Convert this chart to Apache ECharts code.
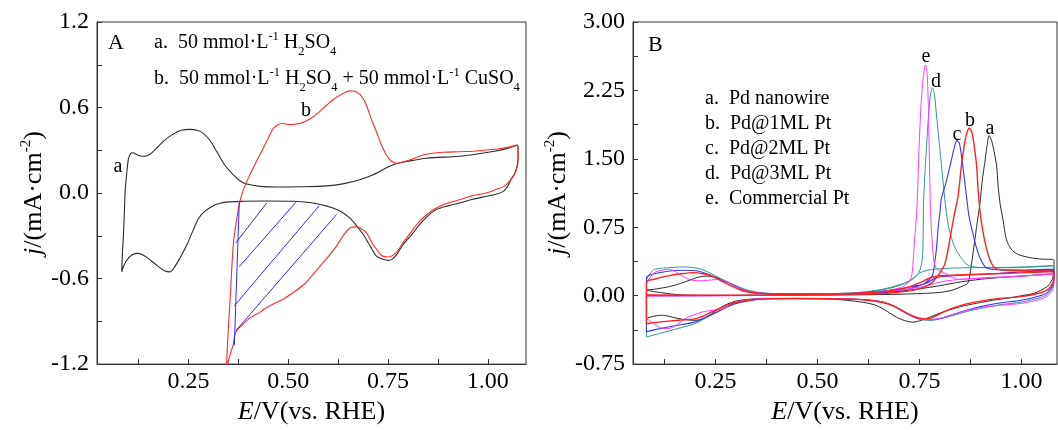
<!DOCTYPE html>
<html><head><meta charset="utf-8">
<script src="https://cdn.jsdelivr.net/npm/echarts@6/dist/echarts.min.js"></script>
<style>html,body{margin:0;padding:0;background:#fff}#c{width:1058px;height:430px}</style>
</head><body><div id="c"></div>
<script>
// ---------- Axis ticks / labels ----------
const A_xLabels = [0.25, 0.5, 0.75, 1.0];
const A_xTicks = [0.125, 0.25, 0.375, 0.5, 0.625, 0.75, 0.875, 1.0];
const A_yLabels = [-1.2, -0.6, 0, 0.6, 1.2];
const A_yTicks = [-1.2, -0.9, -0.6, -0.3, 0, 0.3, 0.6, 0.9, 1.2];
const B_xLabels = [0.25, 0.5, 0.75, 1.0];
const B_xTicks = [0.125, 0.25, 0.375, 0.5, 0.625, 0.75, 0.875, 1.0];
const B_yLabels = [-0.75, 0, 0.75, 1.5, 2.25, 3.0];
const B_yTicks = [-0.75, -0.375, 0, 0.375, 0.75, 1.125, 1.5, 1.875, 2.25, 2.625, 3.0];

// ---------- Panel A: [E (V), j (mA/cm2)] ----------
const A_curve_a = [[0.083,-0.552],[0.085,-0.40],[0.087,-0.31],[0.09,-0.10],[0.092,0.035],[0.096,0.151],[0.100,0.244],[0.106,0.279],[0.112,0.283],[0.12,0.27],[0.13,0.26],[0.142,0.258],[0.155,0.275],[0.17,0.315],[0.19,0.37],[0.21,0.41],[0.232,0.44],[0.254,0.447],[0.272,0.44],[0.2875,0.419],[0.305,0.365],[0.321,0.291],[0.34,0.2],[0.3625,0.128],[0.38,0.085],[0.396,0.063],[0.429,0.047],[0.47,0.042],[0.53,0.044],[0.596,0.05],[0.64,0.066],[0.679,0.093],[0.71,0.125],[0.729,0.151],[0.75,0.182],[0.771,0.205],[0.80,0.223],[0.846,0.244],[0.929,0.258],[0.97,0.272],[1.013,0.291],[1.045,0.31],[1.075,0.337],
[1.076,0.26],[1.074,0.2],[1.068,0.14],[1.06,0.105],[1.05,0.05],[1.039,0.012],[1.02,-0.008],[0.996,-0.023],[0.96,-0.045],[0.929,-0.07],[0.9,-0.09],[0.871,-0.116],[0.85,-0.16],[0.829,-0.221],[0.81,-0.29],[0.788,-0.361],[0.772,-0.43],[0.76,-0.465],[0.75,-0.472],[0.738,-0.465],[0.721,-0.442],[0.705,-0.37],[0.688,-0.291],[0.67,-0.225],[0.654,-0.174],[0.635,-0.135],[0.612,-0.105],[0.5625,-0.07],[0.5125,-0.058],[0.45,-0.056],[0.3875,-0.058],[0.35,-0.062],[0.329,-0.072],[0.31,-0.092],[0.29,-0.13],[0.275,-0.18],[0.262,-0.26],[0.245,-0.37],[0.228,-0.46],[0.215,-0.52],[0.204,-0.553],[0.19,-0.545],[0.17,-0.505],[0.15,-0.46],[0.135,-0.432],[0.121,-0.423],[0.108,-0.435],[0.096,-0.47],[0.088,-0.51],[0.083,-0.552]];

const A_curve_b = [[0.3435,-1.30],[0.3455,-1.198],[0.35,-0.95],[0.355,-0.72],[0.3625,-0.36],[0.37,-0.2],[0.379,-0.058],[0.39,0.04],[0.404,0.128],[0.42,0.22],[0.4375,0.314],[0.45,0.385],[0.4625,0.453],[0.4735,0.478],[0.4835,0.488],[0.494,0.484],[0.504,0.481],[0.516,0.483],[0.529,0.488],[0.545,0.505],[0.5625,0.535],[0.58,0.575],[0.596,0.616],[0.615,0.66],[0.6375,0.698],[0.654,0.717],[0.665,0.714],[0.675,0.703],[0.686,0.67],[0.696,0.616],[0.708,0.52],[0.721,0.43],[0.733,0.34],[0.746,0.267],[0.758,0.225],[0.771,0.209],[0.787,0.218],[0.804,0.232],[0.825,0.255],[0.846,0.272],[0.8875,0.286],[0.93,0.29],[0.971,0.295],[1.0375,0.314],[1.075,0.337],
[1.076,0.27],[1.075,0.2],[1.07,0.15],[1.062,0.11],[1.05,0.07],[1.039,0.045],[1.02,0.025],[0.996,0.0],[0.96,-0.02],[0.929,-0.047],[0.9,-0.07],[0.871,-0.105],[0.85,-0.145],[0.829,-0.198],[0.81,-0.265],[0.7875,-0.349],[0.77,-0.42],[0.75,-0.449],[0.735,-0.44],[0.7125,-0.36],[0.696,-0.279],[0.68,-0.245],[0.667,-0.237],[0.655,-0.245],[0.64,-0.29],[0.621,-0.372],[0.59,-0.48],[0.5625,-0.57],[0.54,-0.64],[0.5125,-0.698],[0.4875,-0.745],[0.4625,-0.779],[0.445,-0.805],[0.429,-0.837],[0.41,-0.865],[0.396,-0.895],[0.383,-0.93],[0.371,-0.965],[0.365,-1.01],[0.3625,-1.059],[0.355,-1.13],[0.348,-1.2],[0.345,-1.3]];

// hatched (Cu UPD) area
const A_hatchEdge = [[0.3775,-0.065],[0.365,-1.07]];
const A_hatch1 = [[0.446,-0.070],[0.369,-0.349]];
const A_hatch2 = [[0.519,-0.065],[0.3775,-0.516]];
const A_hatch3 = [[0.5775,-0.089],[0.365,-0.791]];
const A_hatch4 = [[0.621,-0.151],[0.369,-0.965]];

// ---------- Panel B: CO stripping CVs ----------
// a: Pd nanowire
const B_a_scan1 = [[0.081,0.06],[0.1,0.045],[0.13,0.025],[0.17,0.008],[0.25,0.003],[0.4,0.005],[0.5,0.007],[0.6,0.01],[0.7,0.016],[0.76,0.025],[0.8,0.036],[0.83,0.06],[0.857,0.108],[0.869,0.14],[0.876,0.3],[0.881,0.452],[0.89,0.75],[0.898,1.0],[0.905,1.3],[0.910,1.45],[0.915,1.62],[0.921,1.755],[0.927,1.70],[0.933,1.58],[0.939,1.43],[0.943,1.2],[0.948,1.0],[0.955,0.83],[0.963,0.62],[0.975,0.51],[0.99,0.455],[1.004,0.434],[1.03,0.41],[1.055,0.40],[1.079,0.397]];
const B_a_return = [[1.08,0.3],[1.077,0.2],[1.068,0.12],[1.053,0.072],[1.03,0.025],[1.0,0.0],[0.979,-0.018],[0.93,-0.05],[0.9,-0.075],[0.86,-0.11],[0.82,-0.16],[0.795,-0.2],[0.775,-0.236],[0.755,-0.27],[0.734,-0.29],[0.715,-0.275],[0.694,-0.236],[0.677,-0.19],[0.661,-0.145],[0.64,-0.1],[0.612,-0.073],[0.57,-0.05],[0.53,-0.037],[0.45,-0.032],[0.38,-0.03],[0.33,-0.04],[0.3,-0.06],[0.28,-0.09],[0.26,-0.14],[0.24,-0.2],[0.22,-0.25],[0.203,-0.27],[0.18,-0.265],[0.158,-0.25],[0.135,-0.225],[0.12,-0.215],[0.105,-0.22],[0.09,-0.235],[0.081,-0.25]];
const B_a_scan2 = [[0.081,0.055],[0.1,0.07],[0.138,0.1],[0.165,0.135],[0.187,0.17],[0.21,0.205],[0.23,0.215],[0.253,0.2],[0.27,0.17],[0.285,0.14],[0.305,0.095],[0.325,0.055],[0.35,0.03],[0.4,0.02],[0.5,0.018],[0.6,0.02],[0.65,0.03],[0.7,0.048],[0.75,0.075],[0.8,0.11],[0.85,0.15],[0.9,0.18],[0.95,0.2],[1.0,0.215],[1.05,0.23],[1.079,0.24]];
// b: Pd@1ML Pt
const B_b_scan1 = [[0.081,0.01],[0.2,0.004],[0.4,0.007],[0.6,0.014],[0.68,0.03],[0.73,0.055],[0.76,0.09],[0.78,0.14],[0.792,0.2],[0.803,0.27],[0.812,0.343],[0.82,0.5],[0.828,0.706],[0.836,0.9],[0.845,1.1],[0.853,1.43],[0.86,1.65],[0.866,1.78],[0.872,1.835],[0.878,1.8],[0.884,1.65],[0.89,1.43],[0.894,1.15],[0.898,0.95],[0.905,0.72],[0.914,0.524],[0.924,0.38],[0.934,0.307],[0.95,0.285],[1.0,0.275],[1.05,0.27],[1.079,0.27]];
const B_b_return = [[1.08,0.22],[1.077,0.14],[1.065,0.07],[1.05,0.035],[1.0,-0.01],[0.947,-0.03],[0.9,-0.06],[0.865,-0.09],[0.83,-0.14],[0.8,-0.2],[0.783,-0.24],[0.77,-0.252],[0.755,-0.25],[0.735,-0.225],[0.71,-0.17],[0.69,-0.12],[0.661,-0.075],[0.612,-0.045],[0.55,-0.035],[0.45,-0.03],[0.38,-0.035],[0.34,-0.045],[0.3,-0.075],[0.281,-0.1],[0.26,-0.14],[0.24,-0.181],[0.22,-0.225],[0.199,-0.254],[0.17,-0.265],[0.134,-0.279],[0.1,-0.295],[0.081,-0.308]];
const B_b_scan2 = [[0.081,0.15],[0.1,0.18],[0.134,0.217],[0.165,0.24],[0.199,0.253],[0.22,0.24],[0.24,0.217],[0.265,0.16],[0.289,0.108],[0.31,0.065],[0.33,0.04],[0.36,0.025],[0.45,0.018],[0.55,0.02],[0.62,0.03],[0.67,0.05],[0.72,0.09],[0.75,0.14],[0.783,0.205],[0.82,0.222],[0.9,0.235],[1.0,0.25],[1.079,0.265]];
// c: Pd@2ML Pt
const B_c_scan1 = [[0.081,0.0],[0.3,0.002],[0.5,0.01],[0.6,0.018],[0.66,0.035],[0.72,0.07],[0.759,0.126],[0.775,0.18],[0.783,0.235],[0.788,0.38],[0.792,0.524],[0.796,0.75],[0.80,0.9],[0.804,1.067],[0.816,1.25],[0.83,1.52],[0.837,1.65],[0.842,1.70],[0.848,1.67],[0.854,1.5],[0.861,1.25],[0.866,1.067],[0.871,0.886],[0.88,0.7],[0.89,0.524],[0.9,0.4],[0.914,0.307],[0.94,0.285],[1.0,0.28],[1.079,0.29]];
const B_c_return = [[1.08,0.2],[1.077,0.12],[1.065,0.04],[1.05,0.005],[1.0,-0.05],[0.947,-0.08],[0.9,-0.12],[0.865,-0.16],[0.83,-0.21],[0.8,-0.25],[0.78,-0.262],[0.76,-0.26],[0.74,-0.24],[0.71,-0.17],[0.68,-0.1],[0.65,-0.062],[0.6,-0.042],[0.5,-0.032],[0.4,-0.032],[0.35,-0.042],[0.31,-0.075],[0.28,-0.12],[0.25,-0.19],[0.22,-0.25],[0.199,-0.29],[0.15,-0.33],[0.1,-0.375],[0.081,-0.395]];
const B_c_scan2 = [[0.081,0.2],[0.1,0.24],[0.134,0.268],[0.17,0.278],[0.207,0.27],[0.24,0.22],[0.26,0.18],[0.281,0.144],[0.31,0.08],[0.33,0.045],[0.37,0.025],[0.45,0.02],[0.55,0.022],[0.62,0.035],[0.68,0.06],[0.72,0.09],[0.745,0.11],[0.767,0.135],[0.79,0.195],[0.824,0.217],[0.9,0.235],[0.947,0.245],[1.0,0.26],[1.079,0.28]];
// d: Pd@3ML Pt
const B_d_scan1 = [[0.081,0.0],[0.3,0.003],[0.5,0.012],[0.6,0.03],[0.661,0.065],[0.7,0.11],[0.726,0.16],[0.745,0.225],[0.752,0.29],[0.757,0.4],[0.759,0.6],[0.76,1.0],[0.763,1.3],[0.767,1.6],[0.772,1.95],[0.777,2.2],[0.782,2.28],[0.787,2.2],[0.792,1.97],[0.798,1.7],[0.804,1.43],[0.812,1.067],[0.818,0.85],[0.824,0.706],[0.835,0.55],[0.849,0.434],[0.862,0.36],[0.873,0.326],[0.898,0.31],[0.95,0.31],[1.0,0.315],[1.079,0.33]];
const B_d_return = [[1.08,0.22],[1.077,0.1],[1.065,0.02],[1.05,-0.015],[1.0,-0.07],[0.947,-0.1],[0.9,-0.14],[0.865,-0.175],[0.83,-0.22],[0.8,-0.255],[0.78,-0.27],[0.76,-0.265],[0.74,-0.245],[0.71,-0.175],[0.68,-0.1],[0.65,-0.06],[0.6,-0.04],[0.5,-0.03],[0.4,-0.03],[0.363,-0.037],[0.33,-0.055],[0.297,-0.09],[0.27,-0.14],[0.248,-0.19],[0.22,-0.26],[0.199,-0.308],[0.15,-0.37],[0.1,-0.43],[0.081,-0.453]];
const B_d_scan2 = [[0.081,0.163],[0.09,0.24],[0.101,0.289],[0.13,0.305],[0.175,0.315],[0.2,0.305],[0.216,0.289],[0.245,0.23],[0.273,0.163],[0.3,0.11],[0.322,0.072],[0.35,0.04],[0.379,0.025],[0.45,0.02],[0.55,0.025],[0.6,0.035],[0.661,0.072],[0.7,0.12],[0.726,0.163],[0.751,0.25],[0.783,0.289],[0.881,0.307],[0.979,0.307],[1.079,0.326]];
// e: Commercial Pt
const B_e_scan1 = [[0.081,-0.005],[0.3,0.0],[0.5,0.01],[0.6,0.02],[0.65,0.04],[0.7,0.085],[0.72,0.13],[0.73,0.2],[0.734,0.343],[0.738,0.6],[0.743,0.886],[0.746,1.2],[0.749,1.6],[0.754,2.1],[0.76,2.42],[0.765,2.53],[0.769,2.42],[0.772,2.05],[0.774,1.6],[0.776,1.15],[0.778,0.85],[0.782,0.55],[0.787,0.343],[0.796,0.285],[0.815,0.24],[0.83,0.2],[0.845,0.18],[0.9,0.195],[1.0,0.215],[1.079,0.235]];
const B_e_return = [[1.08,0.15],[1.076,0.06],[1.065,0.0],[1.05,-0.035],[1.0,-0.085],[0.947,-0.105],[0.9,-0.13],[0.865,-0.165],[0.83,-0.21],[0.8,-0.25],[0.78,-0.262],[0.76,-0.26],[0.74,-0.24],[0.71,-0.17],[0.68,-0.1],[0.65,-0.06],[0.6,-0.04],[0.5,-0.03],[0.4,-0.03],[0.35,-0.035],[0.3,-0.07],[0.275,-0.13],[0.256,-0.156],[0.235,-0.165],[0.216,-0.181],[0.195,-0.215],[0.175,-0.254],[0.155,-0.32],[0.134,-0.362],[0.115,-0.35],[0.1,-0.31],[0.088,-0.27],[0.081,-0.25]];
const B_e_scan2 = [[0.081,0.12],[0.09,0.2],[0.101,0.255],[0.12,0.28],[0.138,0.289],[0.155,0.255],[0.175,0.2],[0.19,0.172],[0.216,0.163],[0.24,0.172],[0.262,0.18],[0.28,0.15],[0.3,0.1],[0.33,0.05],[0.37,0.025],[0.45,0.02],[0.55,0.02],[0.62,0.03],[0.68,0.05],[0.72,0.07],[0.76,0.1],[0.816,0.163],[0.9,0.19],[0.947,0.2],[1.0,0.215],[1.079,0.24]];

const A_legend = ['a.', 'b.'];
const B_legend = ['a.  Pd nanowire', 'b.  Pd@1ML Pt', 'c.  Pd@2ML Pt', 'd.  Pd@3ML Pt', 'e.  Commercial Pt'];

// ---------- Build chart ----------
const FONT = '"Liberation Serif", "Times New Roman", serif';
const AX = '#333';
const chart = echarts.init(document.getElementById('c'), null, {renderer: 'canvas'});

function cv(data, axis, color, width, smooth) {
  return {type: 'line', xAxisIndex: axis, yAxisIndex: axis, data: data, symbol: 'none', showSymbol: false,
    smooth: smooth === undefined ? 0.3 : smooth, lineStyle: {color: color, width: width}, silent: true, animation: false};
}
function xAx(grid, min, max, ticks, labels) {
  return {type: 'value', gridIndex: grid, min: min, max: max,
    axisLine: {show: true, onZero: false, lineStyle: {color: AX, width: 1}},
    axisTick: {show: true, inside: true, length: 5, customValues: ticks, lineStyle: {color: AX}},
    axisLabel: {customValues: labels, formatter: v => v.toFixed(2), fontSize: 24, fontFamily: FONT, color: '#000', margin: 6},
    splitLine: {show: false},
    name: '{i|E}{n|/V(vs. RHE)}', nameLocation: 'middle', nameGap: 34,
    nameTextStyle: {rich: {i: {fontFamily: FONT, fontSize: 26, fontStyle: 'italic', color: '#000'}, n: {fontFamily: FONT, fontSize: 26, color: '#000'}}}};
}
function yAx(grid, min, max, ticks, labels, dec, gap) {
  return {type: 'value', gridIndex: grid, min: min, max: max,
    axisLine: {show: true, onZero: false, lineStyle: {color: AX, width: 1}},
    axisTick: {show: true, inside: true, length: 5, customValues: ticks, lineStyle: {color: AX}},
    axisLabel: {customValues: labels, formatter: v => v.toFixed(dec), fontSize: 24, fontFamily: FONT, color: '#000', margin: 8},
    splitLine: {show: false},
    name: '{i|j}{n|/(mA\u00B7cm}{sup|-2}{n|)}', nameLocation: 'middle', nameGap: gap,
    nameTextStyle: {rich: {
      i: {fontFamily: FONT, fontSize: 26, fontStyle: 'italic', color: '#000', lineHeight: 32},
      n: {fontFamily: FONT, fontSize: 26, color: '#000', lineHeight: 32},
      sup: {fontFamily: FONT, fontSize: 15, color: '#000', verticalAlign: 'top', lineHeight: 15, height: 15}}}};
}
const richSmall = {
  n: {fontFamily: FONT, fontSize: 20, fill: '#000', lineHeight: 24},
  sup: {fontFamily: FONT, fontSize: 12.5, fill: '#000', verticalAlign: 'top', height: 12, lineHeight: 12},
  sub: {fontFamily: FONT, fontSize: 12.5, fill: '#000', verticalAlign: 'bottom', height: 6, lineHeight: 6}
};
function txt(x, y, text, size, align) {
  return {type: 'text', x: x, y: y, silent: true,
    style: {text: text, font: size + 'px ' + FONT, fill: '#000', align: align || 'left', verticalAlign: 'middle'}};
}
function rtxt(x, y, text) {
  return {type: 'text', x: x, y: y, silent: true,
    style: {text: text, rich: richSmall, font: '20px ' + FONT, fill: '#000', align: 'left', verticalAlign: 'middle'}};
}

const mol = '{n|50 mmol\u00B7L}{sup|-1}';
const option = {
  animation: false,
  backgroundColor: '#fff',
  grid: [
    {left: 97, top: 22, width: 429, height: 346, show: true, borderColor: AX, borderWidth: 1, backgroundColor: 'transparent'},
    {left: 633, top: 22, width: 424, height: 346, show: true, borderColor: AX, borderWidth: 1, backgroundColor: 'transparent'}
  ],
  xAxis: [xAx(0, 0.021, 1.0957, A_xTicks, A_xLabels), xAx(1, 0.048, 1.0872, B_xTicks, B_xLabels)],
  yAxis: [yAx(0, -1.2, 1.2, A_yTicks, A_yLabels, 1, 44), yAx(1, -0.75, 3.0, B_yTicks, B_yLabels, 2, 52)],
  series: [
    cv(A_curve_a, 0, '#2b2b2b', 1.1),
    cv(A_curve_b, 0, '#ff2a2a', 1.1),
    cv(A_hatchEdge, 0, '#2a2aff', 1, false),
    cv(A_hatch1, 0, '#2a2aff', 1, false),
    cv(A_hatch2, 0, '#2a2aff', 1, false),
    cv(A_hatch3, 0, '#2a2aff', 1, false),
    cv(A_hatch4, 0, '#2a2aff', 1, false),
    cv([].concat(B_a_scan1, B_a_return, B_a_scan2), 1, '#2b2b2b', 1),
    cv([].concat(B_d_scan1, B_d_return, B_d_scan2), 1, '#2e9a90', 1),
    cv([].concat(B_c_scan1, B_c_return, B_c_scan2), 1, '#3535ff', 1.1),
    cv([].concat(B_e_scan1, B_e_return, B_e_scan2), 1, '#ff3cff', 1),
    cv([].concat(B_b_scan1, B_b_return, B_b_scan2), 1, '#ff2020', 1.4)
  ],
  graphic: [
    txt(108, 43, 'A', 22),
    rtxt(154, 43, '{n|' + A_legend[0] + '  }' + mol + '{n| H}{sub|2}{n|SO}{sub|4}'),
    rtxt(154, 79, '{n|' + A_legend[1] + '  }' + mol + '{n| H}{sub|2}{n|SO}{sub|4}{n| + }' + mol + '{n| CuSO}{sub|4}'),
    txt(118, 167, 'a', 20, 'center'),
    txt(306, 111, 'b', 20, 'center'),
    txt(648, 45, 'B', 22),
    txt(705, 99, B_legend[0], 20),
    txt(705, 124, B_legend[1], 20),
    txt(705, 149, B_legend[2], 20),
    txt(705, 174, B_legend[3], 20),
    txt(705, 199, B_legend[4], 20),
    txt(926, 57, 'e', 20, 'center'),
    txt(936, 82, 'd', 20, 'center'),
    txt(957, 135, 'c', 20, 'center'),
    txt(970, 121, 'b', 20, 'center'),
    txt(990, 129, 'a', 20, 'center')
  ]
};
chart.setOption(option);
</script>
</body></html>
